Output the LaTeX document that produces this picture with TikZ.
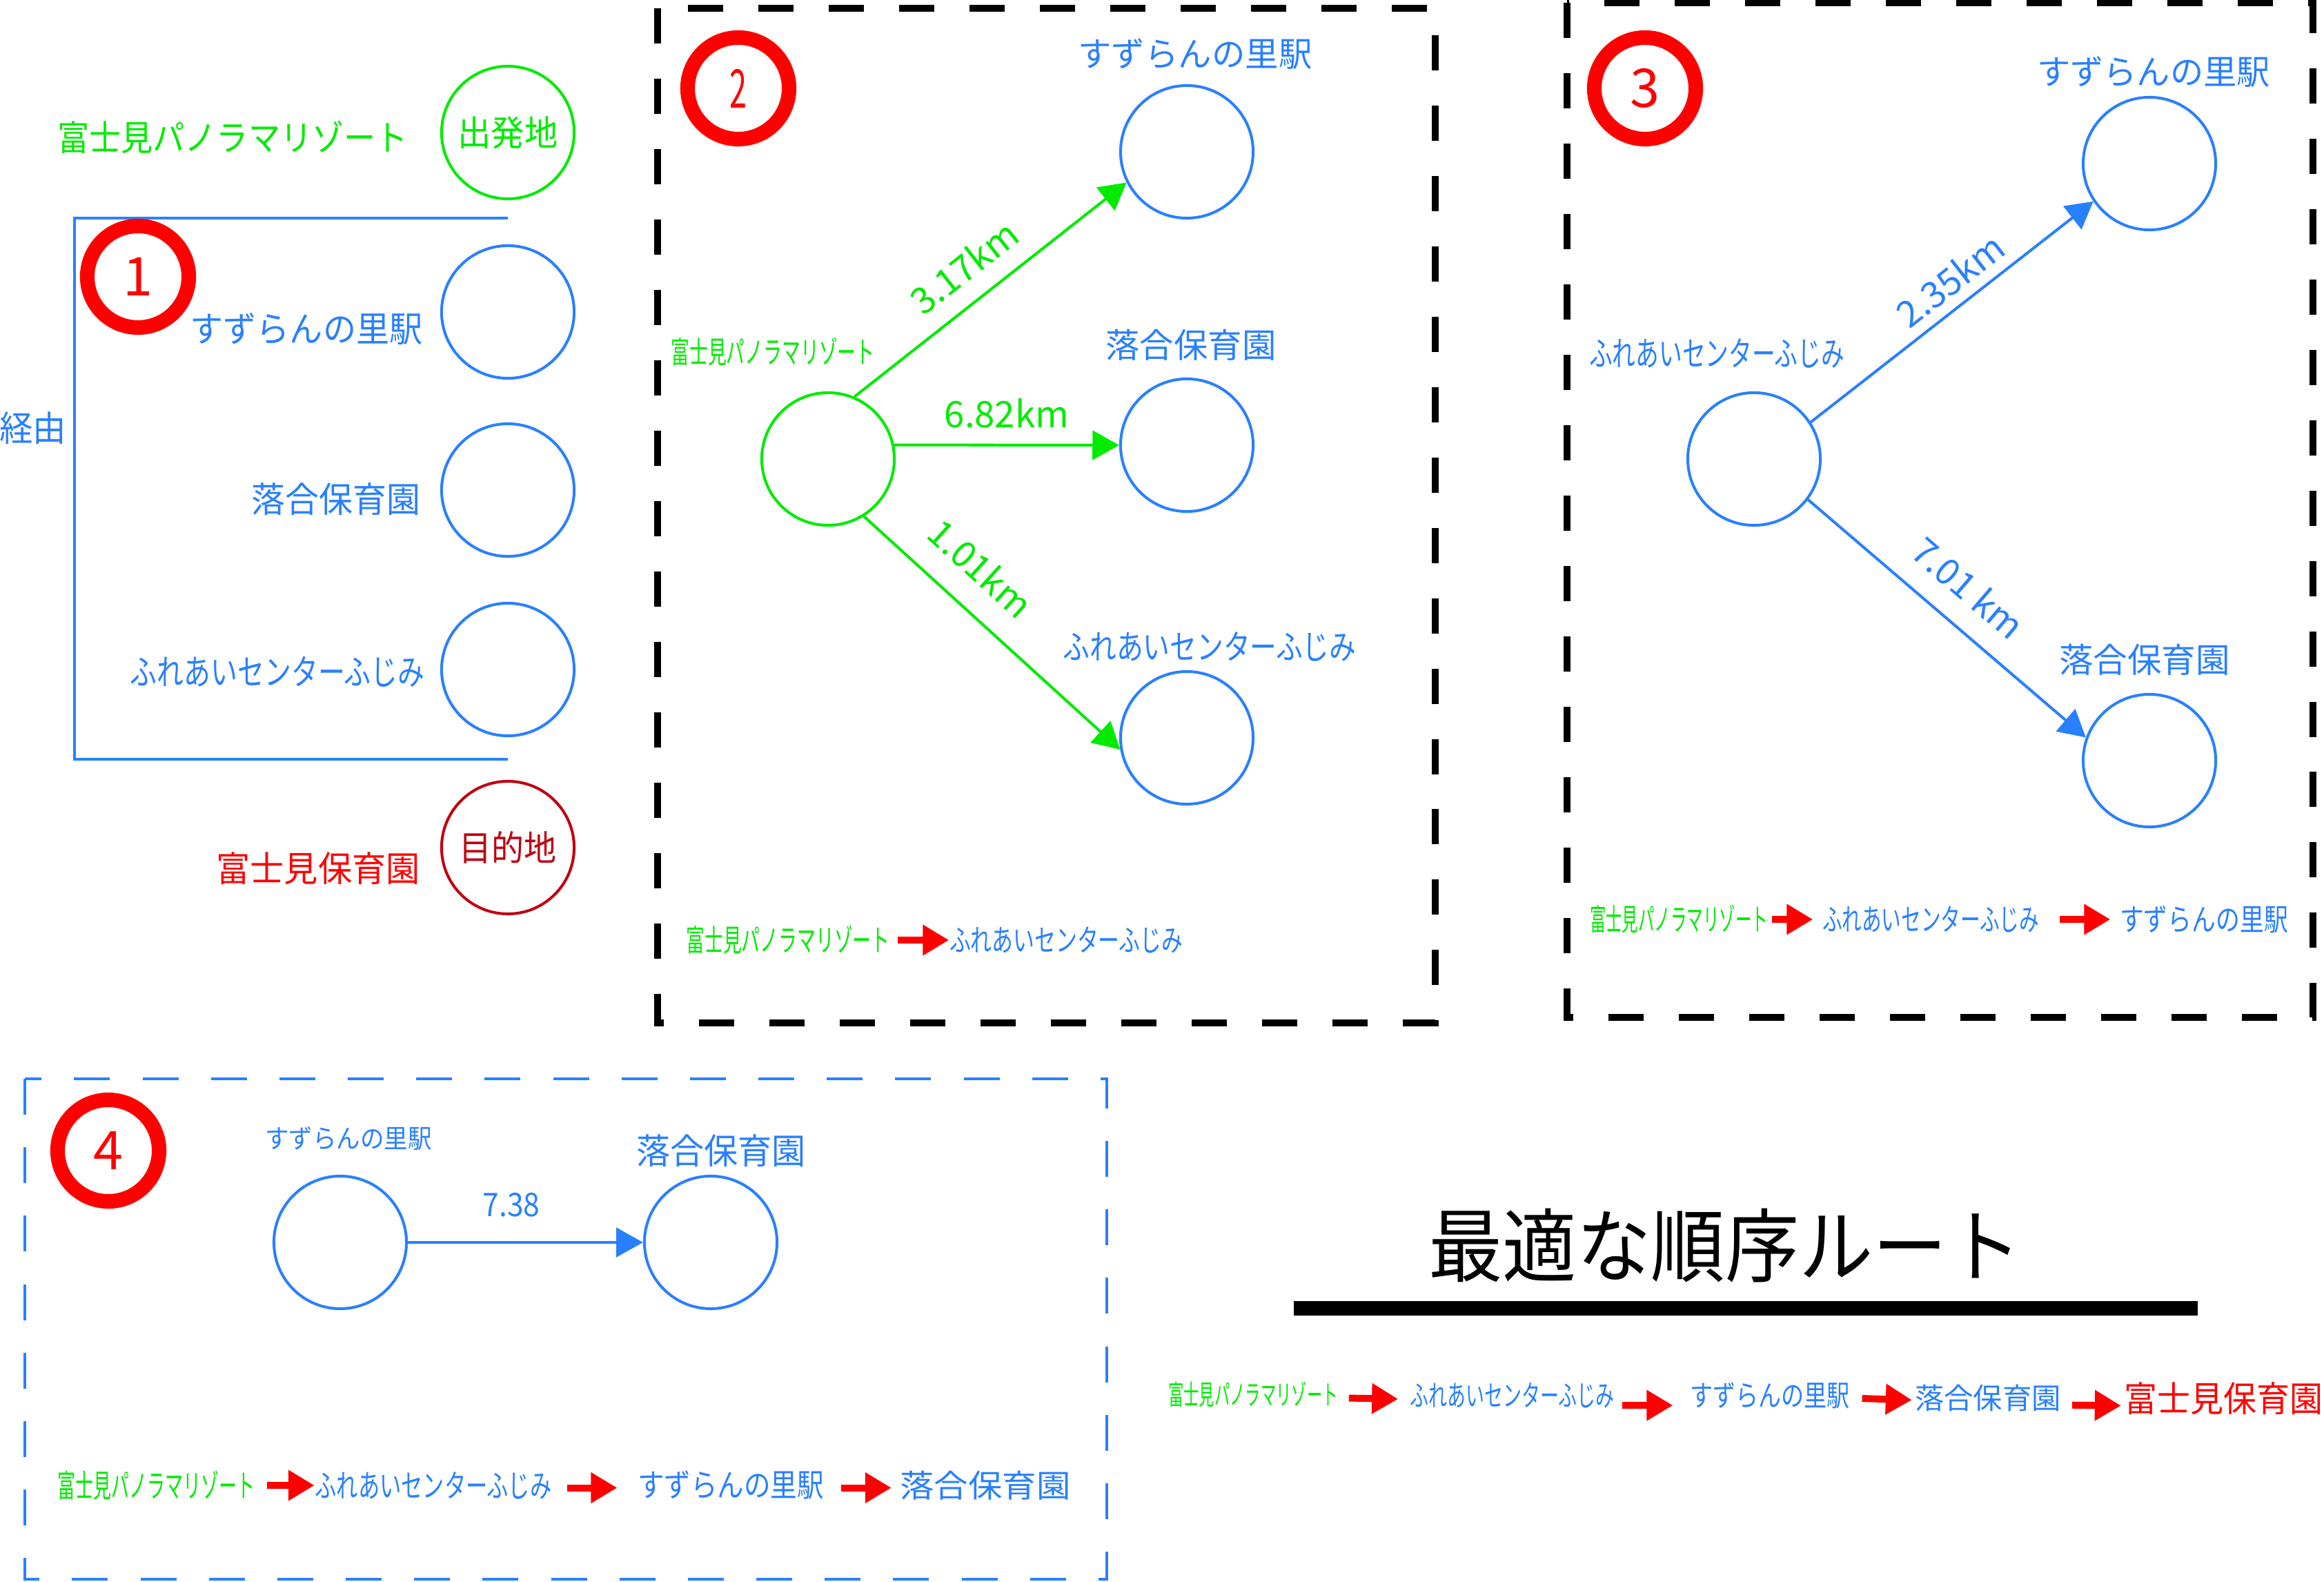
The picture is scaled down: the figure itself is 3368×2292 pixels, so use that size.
\documentclass[tikz,border=0pt]{standalone}
\usepackage{fontspec}
\usepackage{graphicx}
\setmainfont{Noto Sans CJK JP}
\usetikzlibrary{arrows.meta}
\definecolor{nodeblue}{RGB}{41,128,255}
\definecolor{startgreen}{RGB}{0,235,0}
\definecolor{routered}{RGB}{255,0,0}
\definecolor{goalred}{RGB}{192,0,16}
\newlength{\pxu}\setlength{\pxu}{0.01cm}
\newcommand{\fitw}[2]{\resizebox{#1\pxu}{\height}{#2}}

\begin{document}
\begin{tikzpicture}[x=0.01cm,y=-0.01cm,
 stn/.style={circle,draw=nodeblue,line width=1.15pt,minimum size=1.92cm,inner sep=0pt},
 numring/.style={circle,draw=routered,line width=6pt,minimum size=1.47cm,inner sep=0pt,text=routered,font=\fontsize{22}{24}\selectfont},
 lbl/.style={inner sep=0pt,text=nodeblue,font=\fontsize{14.5}{16}\selectfont},
 rtxt/.style={inner sep=0pt,text=nodeblue,font=\fontsize{12.5}{14}\selectfont},
 km/.style={sloped,anchor=south,font=\fontsize{15}{17}\selectfont},
 link/.style={line width=1.15pt,-{Triangle[length=11pt,width=12pt]}},
 hop/.style={draw=routered,line width=2.85pt,-{Triangle[length=10.8pt,width=12pt]}},
 boxline/.style={line width=2.6pt,dash pattern=on 14.5pt off 14.5pt}]
\useasboundingbox (0,0) rectangle (3368,2292);

\node[stn,draw=startgreen,text=startgreen,font=\fontsize{14.5}{16}\selectfont] (dep) at (736,192) {\fitw{145}{出発地}};
\node[stn] (s1) at (736,452) {};
\node[stn] (o1) at (736,710) {};
\node[stn] (f1) at (736,970) {};
\node[stn,draw=goalred,text=goalred,font=\fontsize{14.5}{16}\selectfont] (dst) at (736,1228) {\fitw{141}{目的地}};
\node[lbl,text=startgreen] (depl) at (337,199) {\fitw{508}{富士見パノラマリゾート}};
\node[lbl] (s1l) at (444,477) {\fitw{337}{すずらんの里駅}};
\node[lbl] (o1l) at (487,723) {\fitw{245}{落合保育園}};
\node[lbl] (f1l) at (402,973) {\fitw{426}{ふれあいセンターふじみ}};
\node[lbl,text=routered] (dstl) at (461,1258) {\fitw{295}{富士見保育園}};
\node[lbl] (via) at (48,620) {\fitw{97}{経由}};
\draw[nodeblue,line width=1.15pt] (736,316) -| (108,1100) -- (736,1100);
\node[numring] (n1) at (200,401) {1};

\draw[boxline] (953,12) rectangle (2080,1482);
\node[numring] (n2) at (1070,128) {\fitw{25}{2}};
\node[stn,draw=startgreen] (src2) at (1200,665) {};
\node[stn] (s2) at (1720,220) {};
\node[stn] (o2) at (1720,645) {};
\node[stn] (f2) at (1720,1069) {};
\node[rtxt,text=startgreen] (src2l) at (1120,510) {\fitw{295}{富士見パノラマリゾート}};
\node[lbl,font=\fontsize{14}{16}\selectfont] (s2l) at (1732,78) {\fitw{339}{すずらんの里駅}};
\node[lbl,font=\fontsize{14}{16}\selectfont] (o2l) at (1726,500) {\fitw{247}{落合保育園}};
\node[lbl,font=\fontsize{14}{16}\selectfont] (f2l) at (1753,937) {\fitw{425}{ふれあいセンターふじみ}};
\draw[link,startgreen] (src2.67) -- node[km,pos=0.48,inner sep=7.5pt]{3.17km} (s2.207);
\draw[link,startgreen] (src2.12) -- node[km,inner sep=6.3pt]{6.82km} (o2.west);
\draw[link,startgreen] (src2.-58) -- node[km,pos=0.35,inner sep=10pt]{1.01km} (f2.190);
\node[rtxt,text=startgreen] (r2a) at (1142,1362) {\fitw{295}{富士見パノラマリゾート}};
\node[rtxt] (r2b) at (1545,1362) {\fitw{338}{ふれあいセンターふじみ}};
\draw[hop,shorten <=3pt] (r2a.east) -- (r2b.west);

\draw[boxline] (2271,4) rectangle (3352,1474);
\node[numring] (n3) at (2384,128) {3};
\node[stn] (src3) at (2542,665) {};
\node[stn] (s3) at (3115,237) {};
\node[stn] (o3) at (3115,1102) {};
\node[lbl,font=\fontsize{14}{16}\selectfont] (src3l) at (2488,512) {\fitw{370}{ふれあいセンターふじみ}};
\node[lbl,font=\fontsize{14}{16}\selectfont] (s3l) at (3121,104) {\fitw{338}{すずらんの里駅}};
\node[lbl,font=\fontsize{14}{16}\selectfont] (o3l) at (3108,956) {\fitw{248}{落合保育園}};
\draw[link,nodeblue] (src3.33) -- node[km,pos=0.55,inner sep=4.3pt]{2.35km} (s3.214);
\draw[link,nodeblue] (src3.-37) -- node[km,pos=0.49,inner sep=8.8pt]{7.01 km} (o3.160);
\node[rtxt,text=startgreen] (r3a) at (2433,1332) {\fitw{258}{富士見パノラマリゾート}};
\node[rtxt] (r3b) at (2798,1332) {\fitw{314}{ふれあいセンターふじみ}};
\node[rtxt] (r3c) at (3194,1332) {\fitw{244}{すずらんの里駅}};
\draw[hop,shorten <=1.4pt,shorten >=3.7pt] (r3a.east) -- (r3b.west);
\draw[hop,shorten <=8.2pt,shorten >=3.7pt] (r3b.east) -- (r3c.west);

\draw[nodeblue,line width=1.3pt,dash pattern=on 14.8pt off 13.4pt] (36,1563) rectangle (1604,2288);
\node[numring] (n4) at (157,1667) {4};
\node[stn] (s4) at (493,1800) {};
\node[stn] (o4) at (1030,1800) {};
\node[lbl,font=\fontsize{10.7}{12}\selectfont] (s4l) at (505,1650) {\fitw{242}{すずらんの里駅}};
\node[lbl] (o4l) at (1045,1667) {\fitw{246}{落合保育園}};
\draw[link,nodeblue] (s4) -- node[pos=0.44,anchor=south,inner sep=10pt,font=\fontsize{13.4}{15}\selectfont]{\fitw{83}{7.38}} (o4);
\node[rtxt,text=startgreen,font=\fontsize{13}{15}\selectfont] (r4a) at (226,2152) {\fitw{286}{富士見パノラマリゾート}};
\node[rtxt,font=\fontsize{13}{15}\selectfont] (r4b) at (628,2152) {\fitw{343}{ふれあいセンターふじみ}};
\node[rtxt,font=\fontsize{13}{15}\selectfont] (r4c) at (1059,2152) {\fitw{270}{すずらんの里駅}};
\node[rtxt,font=\fontsize{13}{15}\selectfont] (r4d) at (1428,2152) {\fitw{247}{落合保育園}};
\draw[hop,shorten <=4.8pt] (r4a.east) -- (r4b.west);
\draw[hop,shorten <=6.3pt,shorten >=8.2pt] ([yshift=-1pt]r4b.east) -- ([yshift=-1pt]r4c.west);
\draw[hop,shorten <=6.8pt,shorten >=3.4pt] ([yshift=-1pt]r4c.east) -- ([yshift=-1pt]r4d.west);

\node[inner sep=0pt,font=\fontsize{33}{36}\selectfont] (title) at (2500,1805) {\fitw{859}{最適な順序ルート}};
\fill (1875,1885) rectangle (3185,1906);
\node[rtxt,text=startgreen,font=\fontsize{11.3}{13}\selectfont] (fa) at (1816,2020) {\fitw{246}{富士見パノラマリゾート}};
\node[rtxt,font=\fontsize{12}{14}\selectfont] (fb) at (2191,2022) {\fitw{296}{ふれあいセンターふじみ}};
\node[rtxt,font=\fontsize{12}{14}\selectfont] (fc) at (2565,2022) {\fitw{232}{すずらんの里駅}};
\node[rtxt,font=\fontsize{12}{14}\selectfont] (fd) at (2881,2025) {\fitw{212}{落合保育園}};
\node[rtxt,text=routered,font=\fontsize{14.5}{16}\selectfont] (fe) at (3222,2026) {\fitw{288}{富士見保育園}};
\draw[hop,shorten <=4.3pt,shorten >=4.6pt] ([yshift=-1.5pt]fa.east) -- ([yshift=-1.5pt]fb.west);
\draw[hop,shorten <=3.1pt,shorten >=6.8pt] ([yshift=-4pt]fb.east) -- ([yshift=-4pt]fc.west);
\draw[hop,shorten <=4.8pt,shorten >=1pt] ([yshift=-1pt]fc.east) -- ([yshift=-1pt]fd.west);
\draw[hop,shorten <=4.3pt,shorten >=1pt] ([yshift=-3pt]fd.east) -- ([yshift=-3pt]fe.west);
\end{tikzpicture}
\end{document}
